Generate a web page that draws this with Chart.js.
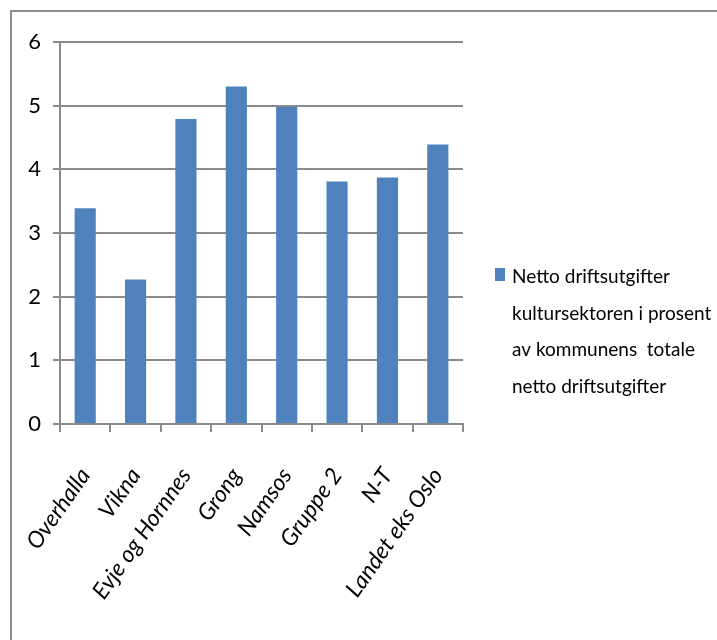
<!DOCTYPE html>
<html>
<head>
<meta charset="utf-8">
<script src="https://cdn.jsdelivr.net/npm/chart.js@4/dist/chart.umd.min.js"></script>
<style>
  html, body { margin: 0; padding: 0; background: #ffffff; }
  #wrap { position: relative; width: 717px; height: 640px; }
</style>
</head>
<body>
<div id="wrap"><canvas id="c" width="717" height="640"></canvas></div>
<script>
// Kommuner og sammenligningsgrupper
const categories = ['Overhalla', 'Vikna', 'Evje og Hornnes', 'Grong', 'Namsos', 'Gruppe 2', 'N-T', 'Landet eks Oslo'];
// Netto driftsutgifter til kultur i prosent av totale netto driftsutgifter
const values = [3.39, 2.27, 4.79, 5.30, 4.98, 3.81, 3.87, 4.39];
const yTicks = [0, 1, 2, 3, 4, 5, 6];
const seriesName = 'Netto driftsutgifter kultursektoren i prosent av kommunens totale netto driftsutgifter';
const legendLines = ['Netto driftsutgifter', 'kultursektoren i prosent', 'av kommunens  totale', 'netto driftsutgifter'];

const FONT = 'Lato, "Liberation Sans Narrow", "DejaVu Sans Condensed", sans-serif';
const BAR = '#4F81BD';
const GRID = '#8a8a8a';

// Frame around the chart and a legend with wrapped text
const framePlugin = {
  id: 'frame',
  beforeDraw(chart) {
    const ctx = chart.ctx;
    ctx.save();
    ctx.strokeStyle = '#8c8c8c';
    ctx.lineWidth = 2;
    ctx.beginPath();
    ctx.moveTo(11, 640);
    ctx.lineTo(11, 11);
    ctx.lineTo(717, 11);
    ctx.stroke();
    ctx.restore();
  },
  afterDraw(chart) {
    const ctx = chart.ctx;
    const ds = chart.data.datasets[0];
    ctx.save();
    ctx.fillStyle = ds.backgroundColor;
    ctx.fillRect(495, 268, 10, 13);
    ctx.fillStyle = '#000000';
    ctx.font = '19px ' + FONT;
    ctx.textBaseline = 'alphabetic';
    ctx.textAlign = 'left';
    legendLines.forEach((line, i) => {
      ctx.fillText(line, 512, 283 + i * 36.5);
    });
    ctx.restore();
  }
};

new Chart(document.getElementById('c'), {
  type: 'bar',
  data: {
    labels: categories,
    datasets: [{
      label: seriesName,
      data: values,
      backgroundColor: BAR,
      borderWidth: 0,
      categoryPercentage: 1.0,
      barPercentage: 0.42
    }]
  },
  options: {
    responsive: false,
    animation: false,
    devicePixelRatio: 1,
    layout: { padding: { left: 0, top: 42, right: 254, bottom: 0 } },
    plugins: {
      legend: { display: false },
      tooltip: { enabled: false }
    },
    scales: {
      x: {
        afterFit(scale) {
          scale.height = 216;
          scale.paddingLeft = 0;
          scale.paddingRight = 0;
        },
        border: { display: true, color: GRID, width: 2 },
        grid: {
          offset: true,
          drawOnChartArea: false,
          drawTicks: true,
          tickLength: 8,
          color: GRID,
          lineWidth: 2
        },
        ticks: {
          color: '#000000',
          font: { family: FONT, size: 23, style: 'italic' },
          maxRotation: 55,
          minRotation: 55,
          padding: 31,
          autoSkip: false
        }
      },
      y: {
        min: 0,
        max: 6,
        afterFit(scale) { scale.width = 60; },
        afterBuildTicks(scale) { scale.ticks = yTicks.map(v => ({ value: v })); },
        border: { display: true, color: GRID, width: 2 },
        grid: {
          color: GRID,
          lineWidth: 2,
          drawTicks: true,
          tickLength: 7
        },
        ticks: {
          color: '#000000',
          font: { family: FONT, size: 22 },
          padding: 12
        }
      }
    }
  },
  plugins: [framePlugin]
});
</script>
</body>
</html>
